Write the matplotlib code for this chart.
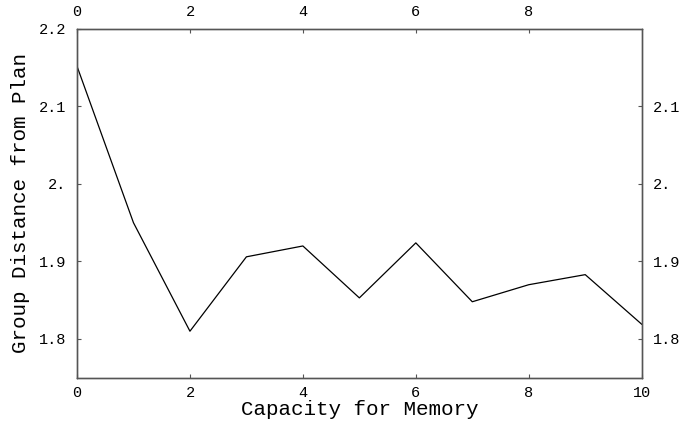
import matplotlib
matplotlib.use("Agg")
import matplotlib.pyplot as plt

capacity = [0, 1, 2, 3, 4, 5, 6, 7, 8, 9, 10]
distance = [2.152, 1.950, 1.810, 1.906, 1.920, 1.853, 1.924, 1.848, 1.870, 1.883, 1.819]

bottom_ticks = [0, 2, 4, 6, 8, 10]
top_ticks = [0, 2, 4, 6, 8]
left_ticks = [1.8, 1.9, 2.0, 2.1, 2.2]
left_labels = ["1.8", "1.9", "2.", "2.1", "2.2"]
right_ticks = [1.8, 1.9, 2.0, 2.1]
right_labels = ["1.8", "1.9", "2.", "2.1"]

plt.rcParams['font.family'] = ['Liberation Mono', 'DejaVu Sans Mono']

fig = plt.figure(figsize=(6.83, 4.24), dpi=100)
ax = fig.add_axes([77/683, 1-377.7/424, (641.7-77)/683, (377.7-29)/424])
ax.plot(capacity, distance, color='black', lw=0.9)
ax.set_xlim(0, 10)
ax.set_ylim(1.75, 2.2)

spine_col = '#555555'
for s in ax.spines.values():
    s.set_color(spine_col)
    s.set_linewidth(0.9)

ax.set_xticks(bottom_ticks)
ax.set_xticklabels([str(t) for t in bottom_ticks])
ax.set_yticks(left_ticks)
ax.set_yticklabels(left_labels)
ax.tick_params(direction='in', length=3, width=0.8, color=spine_col, labelsize=11)
ax.tick_params(axis='x', pad=6)
ax.tick_params(axis='y', pad=8)

axt = ax.twiny()
axt.set_xlim(0, 10)
axt.set_xticks(top_ticks)
axt.set_xticklabels([str(t) for t in top_ticks])
axt.tick_params(direction='in', length=3, width=0.8, color=spine_col, labelsize=11, pad=7)

axr = ax.twinx()
axr.set_ylim(1.75, 2.2)
axr.set_yticks(right_ticks)
axr.set_yticklabels(right_labels)
axr.tick_params(direction='in', length=3, width=0.8, color=spine_col, labelsize=11, pad=8)
for a in (axt, axr):
    for s in a.spines.values():
        s.set_color(spine_col)
        s.set_linewidth(0.9)

ax.set_xlabel("Capacity for Memory", fontsize=15, labelpad=0)
ax.set_ylabel("Group Distance from Plan", fontsize=15, labelpad=6)

fig.savefig("out.png", dpi=100, facecolor='white')
